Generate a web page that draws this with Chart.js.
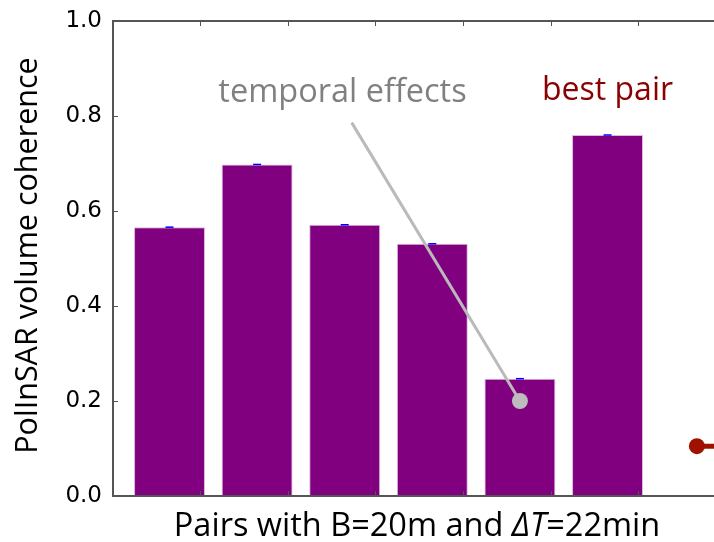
<!DOCTYPE html>
<html><head><meta charset="utf-8">
<script src="https://cdn.jsdelivr.net/npm/chart.js@4/dist/chart.umd.min.js"></script>
<style>
html,body{margin:0;padding:0;background:#fff;overflow:hidden}
#wrap{width:714px;height:542px;overflow:hidden;position:relative;background:#fff}
#c{display:block}
</style></head><body>
<div id="wrap"><canvas id="c" width="800" height="542" style="width:800px;height:542px"></canvas></div>
<script>
// ---- data ----
const pairs = [0, 1, 2, 3, 4, 5];
const coherence = [0.566, 0.698, 0.571, 0.531, 0.247, 0.760];
const yTickValues = [0.0, 0.2, 0.4, 0.6, 0.8, 1.0];
const markerPoints = [{x: 6.02, y: 0.105}, {x: 7.1, y: 0.105}];
const yTitle = 'PolInSAR volume coherence';
const xTitleParts = [['Pairs with B=20m and ', false], ['\u0394T', true], ['=22min', false]];
const temporalLabel = {text: 'temporal effects', x: 1.975, y: 0.829};
const temporalArrow = {x0: 2.08, y0: 0.786, x1: 4.0, y1: 0.2};
const bestLabel = {text: 'best pair', x: 5.0, y: 0.834};

const FONT = "'Open Sans', 'Noto Sans', sans-serif";
const SPINE = '#555555';

const decor = {
  id: 'decor',
  afterDatasetsDraw(chart) {
    const {ctx, chartArea: ca, scales: {x, y}} = chart;
    ctx.save();
    ctx.strokeStyle = '#bababa';
    ctx.lineWidth = 3;
    ctx.beginPath();
    ctx.moveTo(x.getPixelForValue(temporalArrow.x0), y.getPixelForValue(temporalArrow.y0));
    ctx.lineTo(x.getPixelForValue(temporalArrow.x1), y.getPixelForValue(temporalArrow.y1));
    ctx.stroke();
    ctx.fillStyle = '#bdbdbd';
    ctx.beginPath();
    ctx.arc(x.getPixelForValue(temporalArrow.x1), y.getPixelForValue(temporalArrow.y1), 8, 0, Math.PI * 2);
    ctx.fill();
    ctx.textAlign = 'center';
    ctx.textBaseline = 'alphabetic';
    ctx.font = '32.5px ' + FONT;
    ctx.fillStyle = '#808080';
    ctx.fillText(temporalLabel.text, x.getPixelForValue(temporalLabel.x), y.getPixelForValue(temporalLabel.y));
    ctx.font = '32px ' + FONT;
    ctx.fillStyle = '#8b0000';
    ctx.fillText(bestLabel.text, x.getPixelForValue(bestLabel.x), y.getPixelForValue(bestLabel.y));
    ctx.restore();
  },
  afterDraw(chart) {
    const {ctx, chartArea: ca, scales: {x, y}} = chart;
    ctx.save();
    ctx.strokeStyle = SPINE;
    ctx.lineWidth = 2;
    ctx.strokeRect(ca.left, ca.top, ca.right - ca.left, ca.bottom - ca.top);
    ctx.lineWidth = 1;
    ctx.beginPath();
    yTickValues.forEach(v => {
      const py = Math.round(y.getPixelForValue(v)) + 0.5;
      ctx.moveTo(ca.left, py); ctx.lineTo(ca.left + 5, py);
      ctx.moveTo(ca.right, py); ctx.lineTo(ca.right - 5, py);
    });
    pairs.forEach(p => {
      const px = Math.round(x.getPixelForValue(p + 0.35)) + 0.5;
      ctx.moveTo(px, ca.bottom); ctx.lineTo(px, ca.bottom - 5);
      ctx.moveTo(px, ca.top); ctx.lineTo(px, ca.top + 5);
    });
    ctx.stroke();
    ctx.fillStyle = '#000';
    ctx.textBaseline = 'alphabetic';
    ctx.textAlign = 'left';
    const size = 32.5;
    let total = 0;
    const widths = xTitleParts.map(([t, it]) => {
      ctx.font = (it ? 'italic ' : '') + size + 'px ' + FONT;
      const w = ctx.measureText(t).width; total += w; return w;
    });
    let cx = 417 - total / 2;
    xTitleParts.forEach(([t, it], i) => {
      ctx.font = (it ? 'italic ' : '') + size + 'px ' + FONT;
      ctx.fillText(t, cx, 536);
      cx += widths[i];
    });
    ctx.translate(37, 255.5);
    ctx.rotate(-Math.PI / 2);
    ctx.textAlign = 'center';
    ctx.font = '30.5px ' + FONT;
    ctx.fillText(yTitle, 0, 0);
    ctx.restore();
  }
};

new Chart(document.getElementById('c'), {
  type: 'bar',
  data: {
    datasets: [
      {
        type: 'line',
        data: markerPoints,
        borderColor: '#a01200',
        backgroundColor: '#a01200',
        borderWidth: 5,
        pointRadius: [8, 0],
        pointBackgroundColor: '#a01200',
        pointBorderWidth: 0,
        order: 0
      },
      {
        type: 'scatter',
        data: pairs.map((p, i) => ({x: p, y: coherence[i]})),
        pointStyle: 'line',
        pointRadius: 4,
        borderColor: '#0000ff',
        borderWidth: 1.5,
        order: 1
      },
      {
        type: 'bar',
        data: pairs.map((p, i) => ({x: p, y: coherence[i]})),
        backgroundColor: '#800080',
        borderColor: '#dcb8dc',
        borderWidth: 1,
        barPercentage: 0.81,
        categoryPercentage: 1.0,
        order: 2
      }
    ]
  },
  options: {
    responsive: false,
    animation: false,
    devicePixelRatio: 1,
    layout: {padding: {top: 21, right: 10, bottom: 0, left: 0}},
    plugins: {legend: {display: false}, tooltip: {enabled: false}},
    scales: {
      x: {
        type: 'linear',
        offset: false,
        min: -0.645,
        max: 7.083,
        grid: {display: false, drawTicks: false, offset: false},
        border: {display: false},
        ticks: {display: false},
        afterFit: s => { s.height = 46; s.paddingLeft = 0; s.paddingRight = 0; }
      },
      y: {
        min: 0,
        max: 1,
        afterBuildTicks: s => { s.ticks = yTickValues.map(v => ({value: v})); },
        ticks: {
          callback: v => v.toFixed(1),
          color: '#000',
          padding: 11,
          font: {family: "'DejaVu Sans', sans-serif", size: 23}
        },
        grid: {display: false, drawTicks: false},
        border: {display: false},
        afterFit: s => { s.width = 113; s.paddingTop = 0; s.paddingBottom = 0; }
      }
    }
  },
  plugins: [decor]
});
</script>
</body></html>
